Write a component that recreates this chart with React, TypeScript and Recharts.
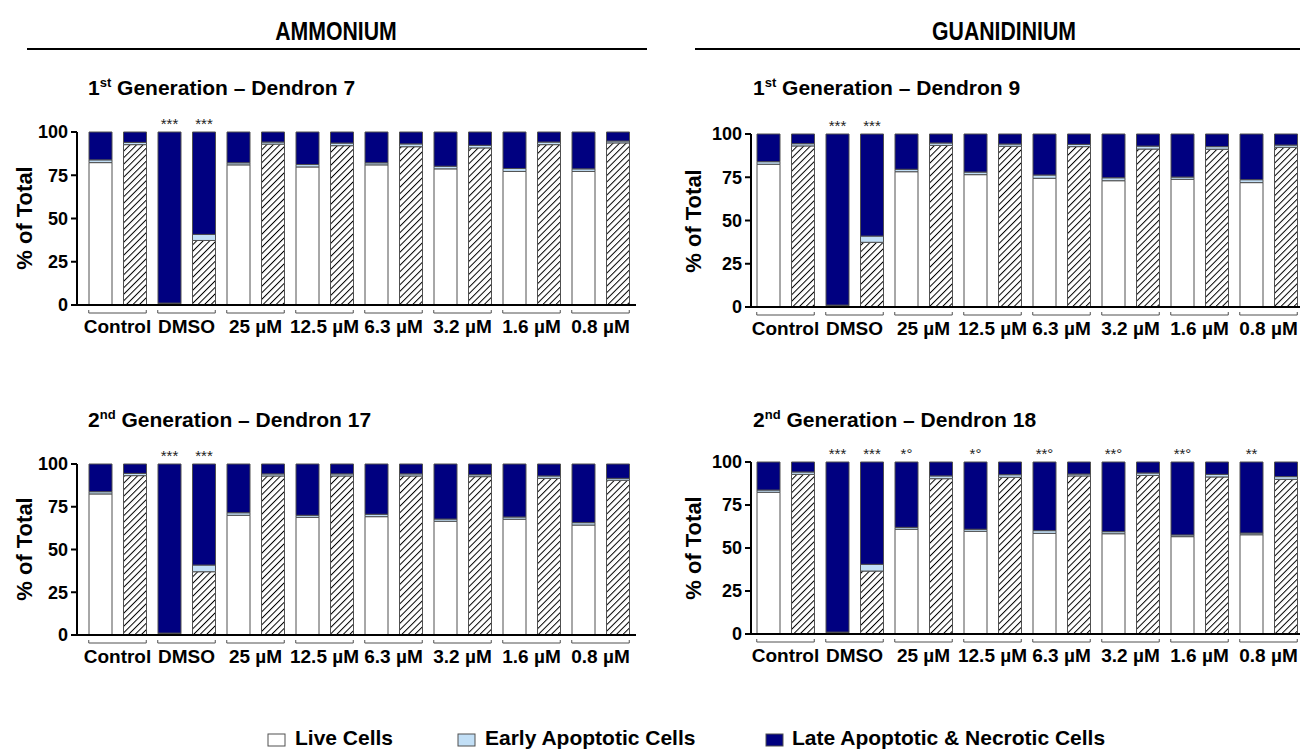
import React from 'react';
import { BarChart, Bar, XAxis, YAxis, Cell, LabelList } from 'recharts';

// concentration groups, two bars each (plain = first bar, hatched = second bar)
const categories = ['Control', 'DMSO', '25 µM', '12.5 µM', '6.3 µM', '3.2 µM', '1.6 µM', '0.8 µM'];
const yTicks = [0, 25, 50, 75, 100];

// 1st Generation – Dendron 7 (ammonium)
const d7Live = [82.3, 92.7, 0.8, 37.3, 81.0, 93.0, 79.8, 92.1, 81.0, 91.5, 78.7, 90.8, 77.2, 92.7, 77.2, 93.7];
const d7Early = [1.6, 1.3, 0.3, 3.5, 1.2, 1.2, 1.4, 1.5, 1.2, 1.6, 1.5, 1.5, 1.7, 1.5, 1.5, 1.1];
const d7Late = [16.1, 6.0, 98.9, 59.2, 17.8, 5.8, 18.8, 6.4, 17.8, 6.9, 19.8, 7.7, 21.1, 5.8, 21.3, 5.2];

// 1st Generation – Dendron 9 (guanidinium)
const d9Live = [82.5, 93.1, 0.8, 37.4, 78.2, 93.4, 76.5, 92.9, 74.4, 92.7, 73.0, 91.3, 73.8, 91.2, 71.9, 92.3];
const d9Early = [1.5, 1.3, 0.3, 3.6, 1.4, 1.4, 1.5, 1.3, 1.9, 1.3, 1.7, 1.7, 1.3, 1.5, 1.7, 1.3];
const d9Late = [16.0, 5.6, 98.9, 59.0, 20.4, 5.2, 22.0, 5.8, 23.7, 6.0, 25.3, 7.0, 24.9, 7.3, 26.4, 6.4];

// 2nd Generation – Dendron 17 (ammonium)
const d17Live = [82.5, 93.2, 0.8, 37.0, 70.0, 93.0, 68.8, 93.0, 69.2, 93.0, 66.5, 92.6, 67.7, 91.6, 64.3, 90.5];
const d17Early = [1.3, 1.3, 0.3, 3.9, 1.5, 1.2, 1.2, 1.2, 1.4, 1.2, 1.3, 1.1, 1.3, 1.4, 1.4, 1.1];
const d17Late = [16.2, 5.5, 98.9, 59.1, 28.5, 5.8, 30.0, 5.8, 29.4, 5.8, 32.2, 6.3, 31.0, 7.0, 34.3, 8.4];

// 2nd Generation – Dendron 18 (guanidinium)
const d18Live = [82.4, 92.8, 0.8, 36.6, 60.9, 90.3, 59.7, 91.1, 58.5, 91.9, 58.3, 92.2, 56.6, 91.3, 57.7, 89.9];
const d18Early = [1.3, 1.4, 0.3, 3.9, 1.1, 1.6, 1.2, 1.5, 1.6, 1.1, 1.2, 1.4, 1.0, 1.5, 1.0, 1.6];
const d18Late = [16.3, 5.8, 98.9, 59.5, 38.0, 8.1, 39.1, 7.4, 39.9, 7.0, 40.5, 6.4, 42.4, 7.2, 41.3, 8.5];

// significance marks above bars
const sigDmso = ['', '', '***', '***', '', '', '', '', '', '', '', '', '', '', '', ''];
const sigD18 = ['', '', '***', '***', '*°', '', '*°', '', '**°', '', '**°', '', '**°', '', '**', ''];

const legendItems = ['Live Cells', 'Early Apoptotic Cells', 'Late Apoptotic & Necrotic Cells'];

const NAVY = '#000080';
const LIGHT_BLUE = '#c2dff6';
const EDGE = '#505050';
const FONT = '"Liberation Sans", Arial, Helvetica, sans-serif';

const PITCH = 34.5;
const BAR_W = 23;

const buildRows = (live: number[], early: number[], late: number[], sig: string[]) =>
  live.map((v, i) => ({ idx: i, live: v, early: early[i], late: late[i], sig: sig[i] }));

const GroupTick = (props: any) => {
  const { x, y, payload } = props;
  const i = Number(payload.value);
  if (i % 2 === 1) return <g />;
  const x0 = x - BAR_W / 2;
  const x1 = x + PITCH + BAR_W / 2;
  const by = y + 8;
  return (
    <g>
      <path d={`M${x0},${by - 3}V${by}H${x1}V${by - 3}`} stroke={EDGE} strokeWidth={1} fill="none" />
      <text x={(x0 + x1) / 2} y={y + 28} textAnchor="middle" fontFamily={FONT} fontWeight="bold" fontSize={19} fill="#000">
        {categories[i / 2]}
      </text>
    </g>
  );
};

interface PanelProps {
  id: string;
  rows: ReturnType<typeof buildRows>;
  divLeft: number;
  plotLeft: number;
  plotTop: number;
  plotBottom: number;
  padL: number;
  padR: number;
}

const Panel = ({ id, rows, divLeft, plotLeft, plotTop, plotBottom, padL, padR }: PanelProps) => {
  const plotW = PITCH * 16 + padL + padR;
  const width = plotLeft + plotW + 4 - divLeft;
  const height = 40 + (plotBottom - plotTop) + 45;
  return (
    <div style={{ position: 'absolute', left: divLeft, top: plotTop - 40 }}>
      <BarChart
        width={width}
        height={height}
        data={rows}
        barSize={BAR_W}
        margin={{ top: 40, right: 4, bottom: 0, left: plotLeft - divLeft - 50 }}
      >
        <defs>
          <pattern id={`hatch-${id}`} patternUnits="userSpaceOnUse" width={4.6} height={4.6} patternTransform="rotate(45)">
            <rect width={4.6} height={4.6} fill="#fff" />
            <line x1={0} y1={0} x2={0} y2={4.6} stroke="#000" strokeWidth={2} />
          </pattern>
        </defs>
        <XAxis
          dataKey="idx"
          type="category"
          interval={0}
          height={45}
          tickLine={false}
          tickSize={0}
          tickMargin={0}
          padding={{ left: padL, right: padR }}
          axisLine={{ stroke: '#000', strokeWidth: 2 }}
          tick={(p: any) => <GroupTick {...p} />}
        />
        <YAxis
          width={50}
          domain={[0, 100]}
          ticks={yTicks}
          interval={0}
          tickSize={6}
          tickMargin={3}
          axisLine={{ stroke: '#000', strokeWidth: 2 }}
          tickLine={{ stroke: '#000', strokeWidth: 2 }}
          tick={{ fill: '#000', fontSize: 18, fontWeight: 'bold', fontFamily: FONT }}
        />
        <Bar dataKey="live" stackId="s" stroke={EDGE} strokeWidth={1} isAnimationActive={false}>
          {rows.map((r) => (
            <Cell key={r.idx} fill={r.idx % 2 === 1 ? `url(#hatch-${id})` : '#ffffff'} />
          ))}
        </Bar>
        <Bar dataKey="early" stackId="s" fill={LIGHT_BLUE} stroke={EDGE} strokeWidth={1} isAnimationActive={false} />
        <Bar dataKey="late" stackId="s" fill={NAVY} stroke={EDGE} strokeWidth={1} isAnimationActive={false}>
          <LabelList dataKey="sig" position="top" offset={3} fill="#222" fontSize={15} fontFamily={FONT} />
        </Bar>
      </BarChart>
    </div>
  );
};

const Title = ({ x, y, sup, rest }: { x: number; y: number; sup: string; rest: string }) => (
  <text x={x} y={y} fontFamily={FONT} fontWeight="bold" fontSize={21} fill="#000">
    {sup[0]}
    <tspan fontSize={13} dy={-8}>{sup.slice(1)}</tspan>
    <tspan dy={8}>{' ' + rest}</tspan>
  </text>
);

const YLabel = ({ x, y }: { x: number; y: number }) => (
  <text
    x={x}
    y={y}
    transform={`rotate(-90 ${x} ${y})`}
    textAnchor="middle"
    fontFamily={FONT}
    fontWeight="bold"
    fontSize={22}
    fill="#000"
  >
    % of Total
  </text>
);

// condensed bold header (no narrow font installed, so squeeze horizontally)
const Header = ({ cx, children }: { cx: number; children: string }) => (
  <text transform={`translate(${cx},40) scale(0.85,1)`} textAnchor="middle" fontFamily={FONT} fontWeight="bold" fontSize={25} fill="#000">
    {children}
  </text>
);

const LegendText = ({ x, children }: { x: number; children: string }) => (
  <text x={x} y={745} fontFamily={FONT} fontWeight="bold" fontSize={21} fill="#000">
    {children}
  </text>
);

export default function App() {
  return (
    <div
      style={{
        position: 'absolute',
        left: 0,
        top: 0,
        width: 1300,
        height: 750,
        overflow: 'hidden',
        background: '#fff',
        fontFamily: FONT,
      }}
    >
      <svg width={1300} height={750} style={{ position: 'absolute', left: 0, top: 0 }}>
        <Header cx={336}>AMMONIUM</Header>
        <line x1={27} x2={647} y1={49} y2={49} stroke="#000" strokeWidth={2} />
        <Header cx={1004}>GUANIDINIUM</Header>
        <line x1={695} x2={1300} y1={49} y2={49} stroke="#000" strokeWidth={2} />

        <Title x={88} y={95} sup="1st" rest="Generation – Dendron 7" />
        <Title x={753} y={95} sup="1st" rest="Generation – Dendron 9" />
        <Title x={88} y={427} sup="2nd" rest="Generation – Dendron 17" />
        <Title x={753} y={427} sup="2nd" rest="Generation – Dendron 18" />

        <YLabel x={32} y={218} />
        <YLabel x={701} y={221} />
        <YLabel x={32} y={549} />
        <YLabel x={701} y={548} />

        <rect x={268} y={734} width={17} height={12} fill="#fff" stroke={EDGE} />
        <LegendText x={295}>{legendItems[0]}</LegendText>
        <rect x={458} y={734} width={17} height={12} fill={LIGHT_BLUE} stroke={EDGE} />
        <LegendText x={485}>{legendItems[1]}</LegendText>
        <rect x={766} y={734} width={17} height={12} fill={NAVY} stroke={EDGE} />
        <LegendText x={792}>{legendItems[2]}</LegendText>
      </svg>

      <Panel id="d7" rows={buildRows(d7Live, d7Early, d7Late, sigDmso)} divLeft={0} plotLeft={77} plotTop={132} plotBottom={305} padL={6} padR={1} />
      <Panel id="d9" rows={buildRows(d9Live, d9Early, d9Late, sigDmso)} divLeft={660} plotLeft={751} plotTop={134} plotBottom={307} padL={0} padR={0} />
      <Panel id="d17" rows={buildRows(d17Live, d17Early, d17Late, sigDmso)} divLeft={0} plotLeft={77} plotTop={464} plotBottom={635} padL={6} padR={1} />
      <Panel id="d18" rows={buildRows(d18Live, d18Early, d18Late, sigD18)} divLeft={660} plotLeft={751} plotTop={462} plotBottom={634} padL={0} padR={0} />
    </div>
  );
}
